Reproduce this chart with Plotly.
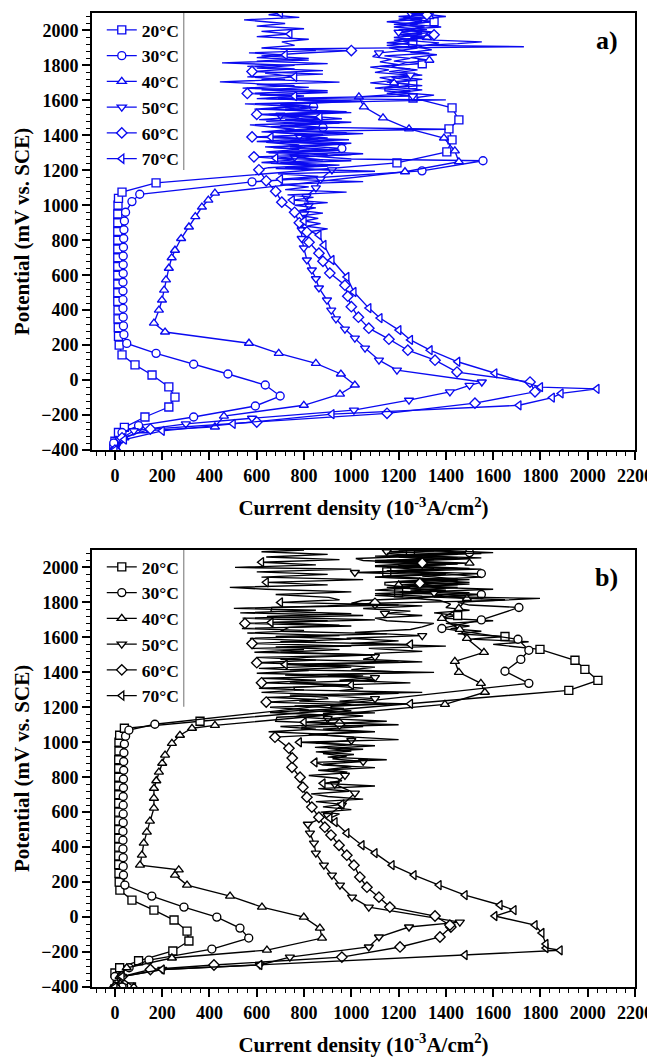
import plotly.graph_objects as go

temps = ["20°C", "30°C", "40°C", "50°C", "60°C", "70°C"]
symbols = ["square", "circle", "triangle-up", "triangle-down", "diamond", "triangle-left"]

x_ticks = [0, 200, 400, 600, 800, 1000, 1200, 1400, 1600, 1800, 2000, 2200]
y_ticks = [-400, -200, 0, 200, 400, 600, 800, 1000, 1200, 1400, 1600, 1800, 2000]

# ---------------- panel a : smooth parts (potential E in mV, current I) ----------------
a20_E = [-390, -350, -300, -270, -211, -154, -97, -39, 29, 87, 144, 200, 250, 300, 350, 400, 450, 500, 550, 600, 650, 700, 750, 800, 850, 900, 950, 1000, 1040, 1075, 1128, 1243, 1306, 1374, 1437, 1489, 1557, 1614]
a20_I = [-5, 0, 15, 40, 127, 228, 254, 228, 157, 85, 30, 18, 15, 14, 13, 13, 12, 12, 12, 12, 12, 12, 12, 12, 12, 12, 12, 13, 15, 30, 174, 1193, 1404, 1426, 1413, 1455, 1426, 1261]
a30_E = [-400, -360, -300, -260, -211, -148, -91, -28, 35, 91, 153, 210, 260, 310, 360, 410, 460, 510, 560, 610, 660, 710, 760, 810, 860, 910, 960, 1021, 1063, 1134, 1197, 1255]
a30_I = [0, -5, 30, 100, 333, 594, 699, 636, 478, 333, 174, 50, 38, 36, 35, 34, 34, 34, 34, 35, 35, 35, 36, 37, 38, 40, 45, 72, 105, 580, 1299, 1557]
a40_E = [-400, -330, -290, -268, -206, -144, -80, -28, 35, 96, 153, 211, 275, 326, 400, 458, 515, 573, 640, 700, 743, 810, 876, 935, 990, 1030, 1070, 1192, 1249, 1311, 1385, 1437, 1500, 1563, 1620]
a40_I = [10, 40, 120, 423, 461, 799, 952, 1015, 956, 850, 693, 567, 212, 165, 186, 199, 208, 216, 228, 240, 254, 280, 313, 340, 368, 395, 423, 1227, 1455, 1438, 1392, 1244, 1134, 1053, 1032]
a50_E = [-400, -340, -290, -250, -218, -172, -115, -67, -30, -11, 57, 114, 183, 240, 292, 350, 400, 458, 527, 580, 630, 687, 756, 810, 860, 898, 950, 1000, 1050, 1100, 1150, 1203]
a50_I = [0, 20, 80, 300, 580, 1011, 1244, 1417, 1500, 1552, 1193, 1117, 1058, 1015, 973, 935, 915, 897, 863, 850, 833, 812, 799, 790, 790, 791, 800, 820, 810, 850, 870, 918]
a60_E = [-400, -330, -280, -240, -190, -132, -67, -11, 46, 114, 171, 234, 297, 360, 420, 480, 543, 612, 680, 726, 789, 847, 900, 960, 1018, 1080, 1140, 1203]
a60_I = [0, 30, 150, 600, 1151, 1523, 1777, 1756, 1447, 1354, 1239, 1159, 1074, 1030, 1000, 985, 973, 909, 880, 863, 821, 812, 780, 760, 706, 680, 640, 609]
a70_E = [-400, -340, -290, -250, -195, -144, -100, -76, -50, -40, 39, 105, 171, 230, 286, 355, 412, 504, 590, 687, 773, 830]
a70_I = [0, 40, 200, 500, 918, 1709, 1850, 1887, 2039, 1800, 1607, 1450, 1333, 1250, 1201, 1121, 1074, 1011, 981, 918, 884, 863]

# ---------------- panel a : noisy transpassive parts, (E, I) pairs ----------------
a20_noise = [(1630, 1350), (1645, 1200), (1660, 1300), (1675, 1180), (1690, 1260), (1705, 1150), (1720, 1300), (1735, 1200), (1750, 1280), (1765, 1160), (1780, 1250), (1795, 1120), (1810, 1300), (1825, 1180), (1840, 1250), (1855, 1140), (1870, 1330), (1885, 1200), (1900, 1280), (1915, 1150), (1930, 1260), (1945, 1180), (1960, 1300), (1975, 1220), (1990, 1350), (2005, 1250), (2020, 1300), (2035, 1200), (2050, 1350), (2065, 1250), (2080, 1400), (2095, 1300)]
a30_noise = [(1265, 1000), (1280, 850), (1295, 1050), (1310, 820), (1325, 960), (1340, 800), (1355, 1000), (1370, 780), (1385, 900), (1400, 760), (1415, 980), (1430, 740), (1445, 880), (1460, 760), (1475, 1000), (1490, 720), (1505, 860), (1520, 700), (1535, 950), (1550, 720), (1565, 840), (1580, 700), (1595, 900), (1610, 690)]
a40_noise = [(1640, 1250), (1655, 1142), (1671, 1142), (1685, 1300), (1700, 1180), (1715, 1260), (1730, 1170), (1745, 1300), (1760, 1200), (1775, 1280), (1790, 1170), (1815, 1227), (1830, 1330), (1845, 1250), (1861, 1362), (1875, 1250), (1890, 1340), (1905, 1280), (1929, 1371), (1945, 1220), (1960, 1320), (1975, 1200), (1990, 1300), (2005, 1220), (2020, 1310), (2035, 1180), (2050, 1300), (2065, 1200), (2080, 1330), (2095, 1250)]
a50_noise = [(1215, 720), (1230, 950), (1245, 700), (1260, 880), (1275, 760), (1290, 1000), (1305, 690), (1320, 900), (1335, 740), (1350, 980), (1365, 700), (1380, 860), (1395, 780), (1410, 1050), (1425, 720), (1440, 900), (1455, 700), (1470, 950), (1485, 760), (1500, 880), (1515, 700), (1530, 1000), (1545, 720), (1560, 860), (1575, 700), (1590, 940), (1603, 1400), (1612, 700), (1625, 1260), (1640, 1150), (1655, 1250), (1670, 1100), (1685, 1200), (1700, 1080), (1715, 1180), (1730, 1120), (1745, 1250), (1760, 1100), (1775, 1159), (1790, 1080), (1805, 1200), (1820, 1121), (1835, 1170), (1850, 1090), (1872, 1117), (1885, 1220), (1900, 1160), (1915, 1300), (1930, 1150), (1945, 1280), (1960, 1180), (1975, 1300), (1990, 1200), (2005, 1320), (2020, 1180), (2035, 1280), (2050, 1150), (2065, 1300), (2080, 1200), (2095, 1350), (2100, 1250)]
a60_noise = [(1215, 650), (1230, 850), (1245, 620), (1260, 760), (1277, 588), (1290, 900), (1305, 640), (1320, 780), (1334, 635), (1350, 950), (1365, 600), (1380, 800), (1391, 580), (1405, 880), (1420, 620), (1435, 760), (1460, 571), (1475, 920), (1490, 610), (1505, 780), (1520, 600), (1535, 980), (1550, 590), (1565, 760), (1580, 550), (1595, 1050), (1610, 600), (1625, 800), (1640, 560), (1655, 900), (1670, 540), (1685, 760), (1706, 444), (1720, 720), (1735, 560), (1750, 880), (1765, 580), (1780, 760), (1795, 560), (1810, 900), (1825, 600), (1840, 820), (1855, 620), (1870, 783), (1885, 1000), (1895, 700), (1907, 1730), (1915, 1300), (1925, 1450), (1935, 1552), (1945, 1350), (1960, 1250), (1975, 1350), (1993, 1324), (2005, 1200), (2020, 1380), (2035, 1250), (2050, 1330), (2061, 1285), (2075, 1220), (2090, 1320), (2100, 1250)]
a70_noise = [(850, 830), (865, 900), (880, 810), (895, 870), (910, 800), (925, 860), (940, 790), (955, 880), (970, 780), (985, 850), (1000, 760), (1015, 900), (1030, 750), (1045, 840), (1060, 730), (1075, 980), (1090, 720), (1105, 820), (1120, 700), (1135, 1050), (1150, 700), (1165, 860), (1180, 690), (1195, 1100), (1210, 680), (1225, 900), (1240, 660), (1255, 1000), (1270, 680), (1285, 820), (1300, 650), (1315, 950), (1330, 670), (1345, 780), (1360, 640), (1375, 990), (1390, 660), (1405, 800), (1420, 650), (1435, 1400), (1450, 660), (1465, 850), (1480, 640), (1495, 960), (1506, 867), (1520, 650), (1535, 920), (1550, 640), (1565, 780), (1580, 620), (1595, 1000), (1610, 640), (1625, 760), (1631, 613), (1645, 900), (1660, 620), (1675, 820), (1690, 600), (1705, 950), (1720, 620), (1735, 760), (1757, 635), (1770, 880), (1785, 600), (1800, 760), (1815, 453), (1830, 820), (1845, 600), (1860, 720), (1872, 567), (1885, 850), (1900, 620), (1915, 760), (1935, 706), (1950, 820), (1965, 600), (1980, 740), (1995, 620), (2010, 800), (2025, 600), (2040, 720), (2061, 546), (2075, 780), (2090, 650), (2100, 700)]

# ---------------- panel b : smooth parts ----------------
b20_E = [-400, -360, -320, -290, -250, -194, -137, -80, -17, 40, 97, 154, 200, 250, 300, 350, 400, 450, 500, 550, 600, 650, 700, 750, 800, 850, 900, 950, 1000, 1040, 1080, 1120, 1297, 1354, 1417, 1469, 1531]
b20_I = [70, 10, 0, 20, 100, 245, 313, 305, 250, 165, 72, 21, 18, 17, 16, 16, 16, 16, 16, 16, 16, 16, 16, 16, 16, 16, 16, 17, 17, 20, 40, 360, 1920, 2043, 1988, 1946, 1798]
b30_E = [-400, -340, -290, -246, -183, -120, -63, 0, 57, 120, 183, 240, 290, 340, 390, 440, 490, 540, 590, 640, 690, 740, 790, 840, 890, 940, 990, 1035, 1069, 1103, 1337, 1406, 1474, 1526, 1589, 1651, 1700, 1771]
b30_I = [30, 0, 60, 144, 410, 566, 529, 431, 292, 156, 42, 36, 35, 35, 34, 34, 34, 35, 35, 35, 35, 36, 36, 37, 37, 38, 40, 45, 59, 169, 1751, 1650, 1717, 1751, 1705, 1383, 1550, 1709]
b40_E = [-400, -340, -290, -234, -189, -120, -63, 0, 57, 120, 183, 240, 270, 297, 354, 423, 486, 549, 623, 680, 737, 780, 829, 880, 926, 994, 1040, 1080, 1097, 1217, 1286, 1337, 1400, 1463, 1514, 1594, 1646, 1709, 1766, 1823]
b40_I = [80, 20, 50, 241, 643, 876, 867, 799, 622, 487, 305, 254, 270, 106, 114, 122, 135, 148, 165, 165, 165, 175, 186, 200, 212, 241, 275, 326, 423, 1396, 1565, 1548, 1455, 1438, 1561, 1489, 1459, 1383, 1455, 1489]
b50_E = [-400, -340, -300, -274, -229, -171, -114, -57, -29, 57, 114, 183, 240, 297, 366, 423, 480, 531, 580, 640, 709, 760, 811]
b50_I = [0, 30, 200, 613, 740, 1074, 1117, 1244, 1459, 1074, 1003, 952, 918, 884, 850, 842, 825, 816, 900, 960, 1015, 930, 973]
b60_E = [-400, -340, -300, -274, -229, -171, -114, -57, -46, 6, 57, 114, 171, 229, 297, 354, 411, 469, 514, 571, 629, 686, 743, 800, 857, 910, 966, 1029]
b60_I = [0, 30, 150, 419, 960, 1206, 1375, 1421, 1417, 1354, 1163, 1117, 1066, 1036, 1011, 981, 948, 914, 888, 863, 833, 812, 795, 783, 749, 750, 736, 677]
b70_E = [-400, -340, -300, -274, -217, -190, -177, -154, -91, -46, 6, 40, 69, 126, 183, 240, 297, 366, 411, 480, 543, 566]
b70_I = [0, 30, 200, 613, 1481, 1883, 1823, 1823, 1806, 1777, 1607, 1688, 1629, 1481, 1371, 1265, 1172, 1100, 1045, 981, 931, 909]

# ---------------- panel b : noisy parts, (E, I) pairs ----------------
b20_noise = [(1545, 1700), (1560, 1600), (1575, 1750), (1590, 1500), (1605, 1650), (1620, 1450), (1635, 1550), (1650, 1420), (1665, 1500), (1680, 1400), (1695, 1600), (1710, 1380), (1725, 1450), (1740, 1350), (1755, 1500), (1770, 1400), (1790, 1420), (1811, 1375), (1825, 1250), (1840, 1500), (1855, 1200), (1870, 1400), (1885, 1150), (1900, 1450), (1915, 1200), (1930, 1500), (1945, 1100), (1960, 1400), (1975, 1150), (1990, 1550), (2005, 1100), (2020, 1450), (2035, 1200), (2050, 1500), (2065, 1100), (2080, 1550), (2095, 1250), (2100, 1400)]
b30_noise = [(1785, 1500), (1800, 1450), (1815, 1650), (1830, 1350), (1845, 1550), (1860, 1300), (1875, 1600), (1890, 1250), (1905, 1500), (1920, 1200), (1935, 1450), (1950, 1300), (1965, 1550), (1980, 1150), (1995, 1500), (2010, 1200), (2025, 1450), (2040, 1100), (2055, 1550), (2070, 1200), (2085, 1500), (2100, 1300)]
b40_noise = [(1840, 1350), (1855, 1500), (1870, 1250), (1885, 1450), (1900, 1200), (1915, 1500), (1930, 1300), (1945, 1550), (1966, 1383), (1980, 1150), (1995, 1450), (2010, 1200), (2025, 1500), (2040, 1150), (2055, 1450), (2070, 1250), (2085, 1600), (2100, 1350)]
b50_noise = [(830, 980), (845, 900), (860, 1000), (875, 880), (890, 1050), (905, 920), (920, 980), (935, 880), (950, 1000), (965, 900), (980, 1100), (995, 850), (1010, 1000), (1029, 1011), (1045, 850), (1060, 1100), (1075, 880), (1090, 1050), (1105, 870), (1120, 1150), (1135, 900), (1150, 1050), (1165, 880), (1180, 1000), (1194, 914), (1206, 914), (1220, 1150), (1235, 950), (1250, 1100), (1265, 900), (1280, 1200), (1295, 950), (1310, 1050), (1325, 880), (1340, 1250), (1355, 950), (1370, 1100), (1385, 900), (1400, 1250), (1415, 1000), (1430, 1100), (1445, 880), (1460, 1300), (1475, 1050), (1490, 1100), (1509, 1100), (1520, 1300), (1537, 1074), (1550, 1400), (1565, 1000), (1580, 1200), (1595, 980), (1610, 1300), (1629, 1015), (1645, 1250), (1660, 1300), (1680, 1349), (1695, 1150), (1710, 1100), (1725, 1300), (1737, 1142), (1750, 1250), (1765, 1050), (1780, 1300), (1795, 1000), (1811, 1045), (1825, 1300), (1840, 1100), (1855, 1350), (1870, 1100), (1885, 1250), (1900, 1142), (1914, 1142), (1930, 1350), (1945, 1100), (1960, 1300), (1971, 1015), (1985, 1350), (2000, 1150), (2015, 1400), (2030, 1100), (2045, 1350), (2060, 1200), (2075, 1450), (2090, 1150), (2100, 1300)]
b60_noise = [(1045, 900), (1060, 650), (1075, 850), (1090, 700), (1105, 950), (1120, 680), (1143, 685), (1155, 900), (1170, 656), (1185, 820), (1200, 656), (1215, 1000), (1230, 640), (1245, 850), (1257, 643), (1270, 950), (1285, 620), (1300, 800), (1309, 609), (1325, 1000), (1340, 620), (1355, 850), (1366, 622), (1380, 1050), (1395, 600), (1410, 820), (1423, 609), (1440, 980), (1455, 600), (1470, 850), (1486, 601), (1500, 1100), (1515, 590), (1530, 800), (1537, 580), (1550, 1000), (1565, 580), (1580, 850), (1594, 571), (1610, 950), (1625, 560), (1640, 800), (1651, 537), (1665, 1000), (1680, 550), (1695, 900), (1710, 540), (1725, 1050), (1740, 530), (1755, 850), (1766, 503), (1780, 900), (1795, 1100), (1810, 1600), (1823, 1798), (1835, 1300), (1850, 1100), (1865, 1400), (1880, 1250), (1895, 1350), (1910, 1290), (1925, 1450), (1937, 1277), (1950, 1150), (1965, 1400), (1980, 1200), (1995, 1350), (2010, 1100), (2025, 1300), (2040, 1050), (2051, 1019), (2065, 1300), (2080, 1150), (2095, 1350), (2100, 1200)]
b70_noise = [(590, 950), (600, 870), (615, 1000), (630, 880), (645, 960), (660, 850), (675, 1050), (690, 900), (705, 830), (720, 990), (735, 860), (750, 1100), (765, 880), (780, 960), (794, 939), (810, 820), (825, 980), (840, 860), (855, 1100), (870, 880), (885, 846), (900, 1150), (915, 900), (930, 1011), (945, 850), (960, 1050), (971, 846), (985, 1000), (1000, 780), (1015, 1200), (1029, 1011), (1045, 820), (1060, 1050), (1075, 791), (1086, 791), (1100, 1200), (1115, 800), (1130, 950), (1145, 760), (1154, 791), (1168, 1100), (1180, 780), (1194, 969), (1208, 760), (1220, 1250), (1235, 780), (1250, 900), (1257, 897), (1270, 740), (1285, 1300), (1300, 760), (1314, 757), (1328, 1000), (1340, 740), (1355, 1100), (1371, 1011), (1385, 720), (1400, 1350), (1415, 740), (1430, 1000), (1445, 720), (1460, 1200), (1475, 700), (1486, 812), (1500, 1100), (1515, 700), (1530, 950), (1545, 680), (1560, 1250), (1575, 700), (1590, 1000), (1605, 680), (1620, 1150), (1635, 700), (1657, 736), (1670, 950), (1685, 660), (1700, 1100), (1715, 680), (1720, 643), (1735, 1000), (1750, 660), (1771, 664), (1785, 1200), (1800, 700), (1815, 950), (1829, 905), (1845, 680), (1860, 1000), (1875, 640), (1886, 486), (1900, 900), (1915, 640), (1930, 1050), (1945, 620), (1960, 900), (1975, 600), (1990, 1000), (2000, 508), (2015, 850), (2030, 620), (2045, 950), (2060, 640), (2075, 900), (2090, 620), (2100, 800)]

panel_a = [(a20_E, a20_I, a20_noise), (a30_E, a30_I, a30_noise), (a40_E, a40_I, a40_noise),
           (a50_E, a50_I, a50_noise), (a60_E, a60_I, a60_noise), (a70_E, a70_I, a70_noise)]
panel_b = [(b20_E, b20_I, b20_noise), (b30_E, b30_I, b30_noise), (b40_E, b40_I, b40_noise),
           (b50_E, b50_I, b50_noise), (b60_E, b60_I, b60_noise), (b70_E, b70_I, b70_noise)]

FONT = "Liberation Serif"
BLUE = "#0a0af0"
BLACK = "#000000"
MS = 8
LW = 1.35
SKIP = 8  # markers drawn on every 8th point of the noisy part

fig = go.Figure()


def add_panel(series, color, xa, ya, legend):
    for (E, I, noise), name, sym in zip(series, temps, symbols):
        nE = [p[0] for p in noise]
        nI = [p[1] for p in noise]
        fig.add_trace(go.Scatter(x=I + nI, y=E + nE, mode="lines", line=dict(color=color, width=LW),
                                 xaxis=xa, yaxis=ya, showlegend=False, hoverinfo="skip"))
        fig.add_trace(go.Scatter(x=I + nI[SKIP // 2::SKIP], y=E + nE[SKIP // 2::SKIP], mode="markers",
                                 marker=dict(symbol=sym, size=MS, color="white",
                                             line=dict(color=color, width=LW)),
                                 xaxis=xa, yaxis=ya, showlegend=False))
        fig.add_trace(go.Scatter(x=[None], y=[None], mode="lines+markers", name=name,
                                 line=dict(color=color, width=LW),
                                 marker=dict(symbol=sym, size=MS, color="white",
                                             line=dict(color=color, width=LW)),
                                 xaxis=xa, yaxis=ya, legend=legend, legendgroup=legend + name))


add_panel(panel_a, BLUE, "x", "y", "legend")
add_panel(panel_b, BLACK, "x2", "y2", "legend2")

TOP_DOM = [0.5513, 1.0]
BOT_DOM = [0.0, 0.4487]

axis_common = dict(showline=True, linecolor="black", linewidth=2, mirror=True, ticks="outside",
                   ticklen=8, tickwidth=1.5, tickcolor="black", showgrid=False, zeroline=False,
                   tickfont=dict(family=FONT, size=18, color="black", weight="bold"),
                   minor=dict(ticks="outside", ticklen=4, tickwidth=1, tickcolor="black", dtick=40))

xtitle = "Current density (10<sup>-3</sup>A/cm<sup>2</sup>)"
ytitle = "Potential (mV vs. SCE)"
title_font = dict(family=FONT, size=21, color="black", weight="bold")
legend_font = dict(family=FONT, size=17.5, color="black", weight="bold")

fig.update_layout(
    width=655, height=1058,
    margin=dict(l=84, r=28, t=5, b=79, autoexpand=False),
    paper_bgcolor="white", plot_bgcolor="white",
    font=dict(family=FONT, color="black"),
    xaxis=dict(axis_common, range=[-97, 2200], tickvals=x_ticks, anchor="y", domain=[0, 1],
               title=dict(text=xtitle, font=title_font, standoff=16)),
    yaxis=dict(axis_common, range=[-400, 2100], tickvals=y_ticks, anchor="x", domain=TOP_DOM,
               title=dict(text=ytitle, font=title_font, standoff=6)),
    xaxis2=dict(axis_common, range=[-97, 2200], tickvals=x_ticks, anchor="y2", domain=[0, 1],
                title=dict(text=xtitle, font=title_font, standoff=16)),
    yaxis2=dict(axis_common, range=[-400, 2100], tickvals=y_ticks, anchor="x2", domain=BOT_DOM,
                title=dict(text=ytitle, font=title_font, standoff=6)),
    legend=dict(x=0.018, y=TOP_DOM[1] + 0.001, xanchor="left", yanchor="top",
                bgcolor="rgba(255,255,255,0)", font=legend_font, tracegroupgap=0, borderwidth=0),
    legend2=dict(x=0.018, y=BOT_DOM[1] + 0.001, xanchor="left", yanchor="top",
                 bgcolor="rgba(255,255,255,0)", font=legend_font, tracegroupgap=0, borderwidth=0),
    showlegend=True,
)

fig.add_annotation(text="a)", xref="x domain", yref="y domain", x=0.973, y=0.975, xanchor="right",
                   yanchor="top", showarrow=False, font=dict(family=FONT, size=26, color="black", weight="bold"))
fig.add_annotation(text="b)", xref="x2 domain", yref="y2 domain", x=0.973, y=0.975, xanchor="right",
                   yanchor="top", showarrow=False, font=dict(family=FONT, size=26, color="black", weight="bold"))

fig.add_shape(type="line", xref="x domain", yref="y domain", x0=0.169, x1=0.169, y0=1, y1=0.641,
              line=dict(color="#888888", width=1.2))
fig.add_shape(type="line", xref="x2 domain", yref="y2 domain", x0=0.169, x1=0.169, y0=1, y1=0.641,
              line=dict(color="#888888", width=1.2))

fig.write_html("out.html")
